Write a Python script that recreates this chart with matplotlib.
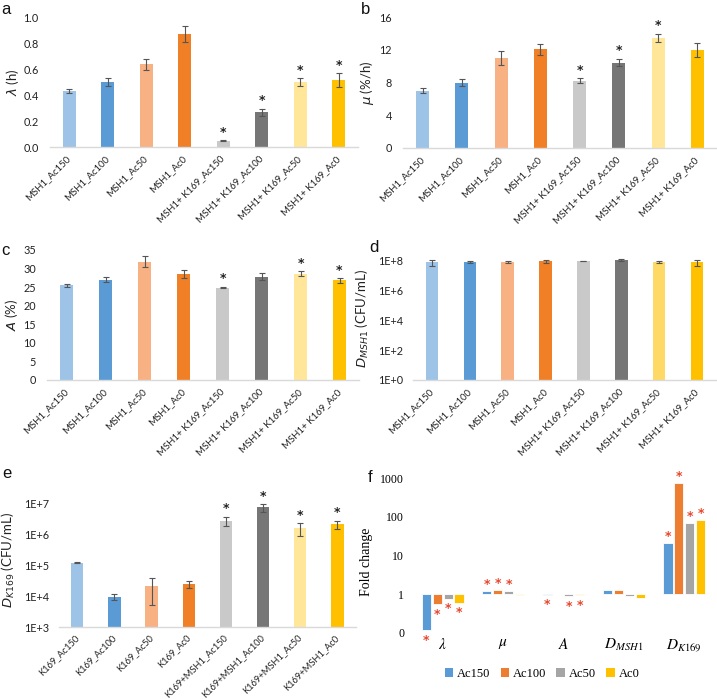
import numpy as np
import matplotlib
matplotlib.use("Agg")
import matplotlib.pyplot as plt
from matplotlib.patches import Patch

plt.rcParams['font.family'] = ['Lato', 'DejaVu Sans']

# ---------------- data ----------------
labels_msh = ['MSH1_Ac150', 'MSH1_Ac100', 'MSH1_Ac50', 'MSH1_Ac0',
              'MSH1+ K169_Ac150', 'MSH1+ K169_Ac100', 'MSH1+ K169_Ac50', 'MSH1+ K169_Ac0']
labels_k = ['K169_Ac150', 'K169_Ac100', 'K169_Ac50', 'K169_Ac0',
            'K169+MSH1_Ac150', 'K169+MSH1_Ac100', 'K169+MSH1_Ac50', 'K169+MSH1_Ac0']

lag = [0.431, 0.50, 0.638, 0.872, 0.048, 0.268, 0.50, 0.515]
lag_err = [0.017, 0.028, 0.042, 0.061, 0.005, 0.027, 0.027, 0.054]
lag_sig = [0, 0, 0, 0, 1, 1, 1, 1]

mu = [6.98, 8.0, 10.96, 12.06, 8.24, 10.44, 13.44, 11.94]
mu_err = [0.3, 0.43, 0.85, 0.65, 0.28, 0.47, 0.53, 0.85]
mu_sig = [0, 0, 0, 0, 1, 1, 1, 0]

asym = [25.5, 27.0, 31.9, 28.55, 24.9, 27.8, 28.6, 26.8]
asym_err = [0.4, 0.63, 1.5, 1.0, 0.2, 0.9, 0.7, 0.63]
asym_sig = [0, 0, 0, 0, 1, 0, 1, 1]

d_msh = [7.0e7, 7.4e7, 7.7e7, 8.1e7, 9.0e7, 1.0e8, 7.4e7, 7.0e7]
d_msh_err = [3.0e7, 1.2e7, 1.5e7, 1.8e7, 3.0e6, 1.5e7, 6.0e6, 3.0e7]

d_k = [1.19e5, 9.5e3, 2.15e4, 2.44e4, 2.7e6, 7.2e6, 1.56e6, 2.1e6]
d_k_err = [2.0e3, 2.2e3, 1.65e4, 6.0e3, 0.95e6, 2.1e6, 0.72e6, 0.6e6]
d_k_sig = [0, 0, 0, 0, 1, 1, 1, 1]

fc_groups = ['$\\lambda$', '$\\mu$', '$A$', '$D_{MSH1}$', '$D_{K169}$']
fc_series = ['Ac150', 'Ac100', 'Ac50', 'Ac0']
fc_ac150 = [0.12, 1.19, 0.97, 1.32, 21.5]
fc_ac100 = [0.55, 1.29, 1.03, 1.28, 740]
fc_ac50 = [0.77, 1.22, 0.90, 0.89, 69]
fc_ac0 = [0.60, 0.98, 0.94, 0.82, 81]
fc_sig_ac150 = [1, 1, 1, 0, 1]
fc_sig_ac100 = [1, 1, 0, 0, 1]
fc_sig_ac50 = [1, 1, 1, 0, 1]
fc_sig_ac0 = [1, 0, 1, 0, 1]

# ---------------- style ----------------
colors8 = ['#9DC3E6', '#5B9BD5', '#F8B183', '#F07F25',
           '#C9C9C9', '#767676', '#FFE699', '#FFC000']
colors8_d = ['#9DC3E6', '#5B9BD5', '#F8B183', '#F07F25',
             '#C9C9C9', '#767676', '#FFD966', '#FFC000']
colors4 = ['#5B9BD5', '#ED7D31', '#A5A5A5', '#FFC000']
ecol = '#555555'

W, H = 717, 699
fig = plt.figure(figsize=(W / 100, H / 100), dpi=100)


def px_axes(left, right, top, bottom):
    return fig.add_axes([left / W, 1 - bottom / H, (right - left) / W, (bottom - top) / H])


def style_axes(ax, xsize):
    for s in ['top', 'right', 'left']:
        ax.spines[s].set_visible(False)
    ax.spines['bottom'].set_color('#D9D9D9')
    ax.spines['bottom'].set_linewidth(1.0)
    ax.tick_params(axis='both', length=0, labelsize=7.8, colors='#222222')
    ax.tick_params(axis='x', labelsize=xsize, pad=7.5)
    ax.tick_params(axis='y', pad=8)
    ax.set_xlim(-0.5, 7.5)


def bar_panel(ax, vals, errs, cols, labels, sig, ylabel, xsize=6.9):
    x = np.arange(len(vals))
    ax.bar(x, vals, width=0.33, color=cols, zorder=2)
    ax.errorbar(x, vals, yerr=errs, fmt='none', ecolor=ecol, elinewidth=0.8,
                capsize=2.5, capthick=0.8, zorder=3)
    for xi, v, e, s in zip(x, vals, errs, sig):
        if s:
            ax.annotate('*', (xi, v + e), xytext=(0, 1), textcoords='offset points',
                        ha='center', va='bottom', fontsize=9, fontweight='bold',
                        family='DejaVu Sans', color='#222222')
    style_axes(ax, xsize)
    ax.set_xticks(x)
    ax.set_xticklabels(labels, rotation=45, ha='right', va='center',
                       rotation_mode='anchor')
    ax.set_ylabel(ylabel, fontsize=9.5, color='#222222')


# panel a
ax = px_axes(50, 358, 17, 147)
bar_panel(ax, lag, lag_err, colors8, labels_msh, lag_sig, '$\\lambda$ (h)')
ax.set_ylim(0, 1.0)
ax.set_yticks([0, 0.2, 0.4, 0.6, 0.8, 1.0])
ax.set_yticklabels(['0.0', '0.2', '0.4', '0.6', '0.8', '1.0'])
ax.yaxis.set_label_coords(-0.095, 0.5)

# panel b
ax = px_axes(403, 717, 17, 148)
bar_panel(ax, mu, mu_err, colors8, labels_msh, mu_sig, '$\\mu$ (%/h)')
ax.set_ylim(0, 16)
ax.set_yticks([0, 4, 8, 12, 16])
ax.yaxis.set_label_coords(-0.085, 0.5)

# panel c
ax = px_axes(47, 359, 250, 380)
bar_panel(ax, asym, asym_err, colors8, labels_msh, asym_sig, '$A$ (%)')
ax.set_ylim(0, 35)
ax.set_yticks([0, 5, 10, 15, 20, 25, 30, 35])
ax.yaxis.set_label_coords(-0.085, 0.5)

# panel d
ax = px_axes(413, 716, 257.4, 380)
bar_panel(ax, d_msh, d_msh_err, colors8_d, labels_msh, [0] * 8,
          '$D_{MSH1}$ (CFU/mL)')
ax.set_yscale('log')
ax.set_ylim(1, 1.5e8)
ax.set_yticks([1, 1e2, 1e4, 1e6, 1e8])
ax.set_yticklabels(['1E+0', '1E+2', '1E+4', '1E+6', '1E+8'])
ax.minorticks_off()
ax.tick_params(axis='y', length=0, pad=7)
ax.yaxis.set_label_coords(-0.14, 0.5)

# panel e
ax = px_axes(58.7, 356, 493.7, 627)
bar_panel(ax, d_k, d_k_err, colors8, labels_k, d_k_sig, '$D_{K169}$ (CFU/mL)',
          xsize=6.7)
ax.set_yscale('log')
ax.set_ylim(1e3, 2e7)
ax.set_yticks([1e3, 1e4, 1e5, 1e6, 1e7])
ax.set_yticklabels(['1E+3', '1E+4', '1E+5', '1E+6', '1E+7'])
ax.minorticks_off()
ax.tick_params(axis='y', length=0, pad=7)
ax.tick_params(axis='x', pad=6.5)
ax.yaxis.set_label_coords(-0.14, 0.5)

# panel f
ax = px_axes(412.5, 714.5, 471.2, 635.7)
ax.set_yscale('log')
series = [fc_ac150, fc_ac100, fc_ac50, fc_ac0]
sigs = [fc_sig_ac150, fc_sig_ac100, fc_sig_ac50, fc_sig_ac0]
xg = np.arange(len(fc_groups))
step = 0.18
for i, (vals, sg) in enumerate(zip(series, sigs)):
    xs = xg + (i - 1.5) * step
    vals = np.array(vals)
    ax.bar(xs, vals - 1, bottom=1, width=0.15, color=colors4[i],
           edgecolor='white', linewidth=0.6, zorder=2)
    for xi, v, s in zip(xs, vals, sg):
        if s:
            off = 0 if v >= 1 else -12
            ax.annotate('*', (xi, v), xytext=(0, off), textcoords='offset points',
                        ha='center', va='bottom', fontsize=9, fontweight='bold',
                        family='DejaVu Sans', color='#E8452C',
                        annotation_clip=False)
ax.set_xlim(-0.5, 4.5)
ax.set_ylim(0.085, 1500)
ax.set_yticks([0.1, 1, 10, 100, 1000])
ax.set_yticklabels(['0', '1', '10', '100', '1000'], family='Liberation Serif', fontsize=8.5)
ax.minorticks_off()
for s in ['top', 'right', 'left', 'bottom']:
    ax.spines[s].set_visible(False)
ax.tick_params(axis='both', length=0)
ax.tick_params(axis='y', pad=6)
ax.set_xticks(xg)
ax.set_xticklabels(fc_groups, fontsize=11, family='Liberation Serif', math_fontfamily='stix')
ax.tick_params(axis='x', pad=1)
ax.set_ylabel('Fold change', family='Liberation Serif', fontsize=10)
ax.yaxis.set_label_coords(-0.13, 0.45)
handles = [Patch(facecolor=c, edgecolor='none') for c in colors4]
ax.legend(handles, fc_series, loc='center', bbox_to_anchor=(542 / W, 1 - 674 / H),
          bbox_transform=fig.transFigure, ncol=4, frameon=False,
          prop={'family': 'Liberation Serif', 'size': 9},
          handlelength=0.7, handleheight=0.7, handletextpad=0.3, columnspacing=0.8)

# panel letters
for lab, (px, py) in {'a': (1, 10), 'b': (361, 10), 'c': (1, 250), 'd': (369, 248),
                      'e': (2, 474), 'f': (368, 477)}.items():
    fig.text(px / W, 1 - py / H, lab, fontsize=12, va='center', ha='left',
             family='Liberation Sans', color='#111111')

fig.savefig('out.png', dpi=100)
